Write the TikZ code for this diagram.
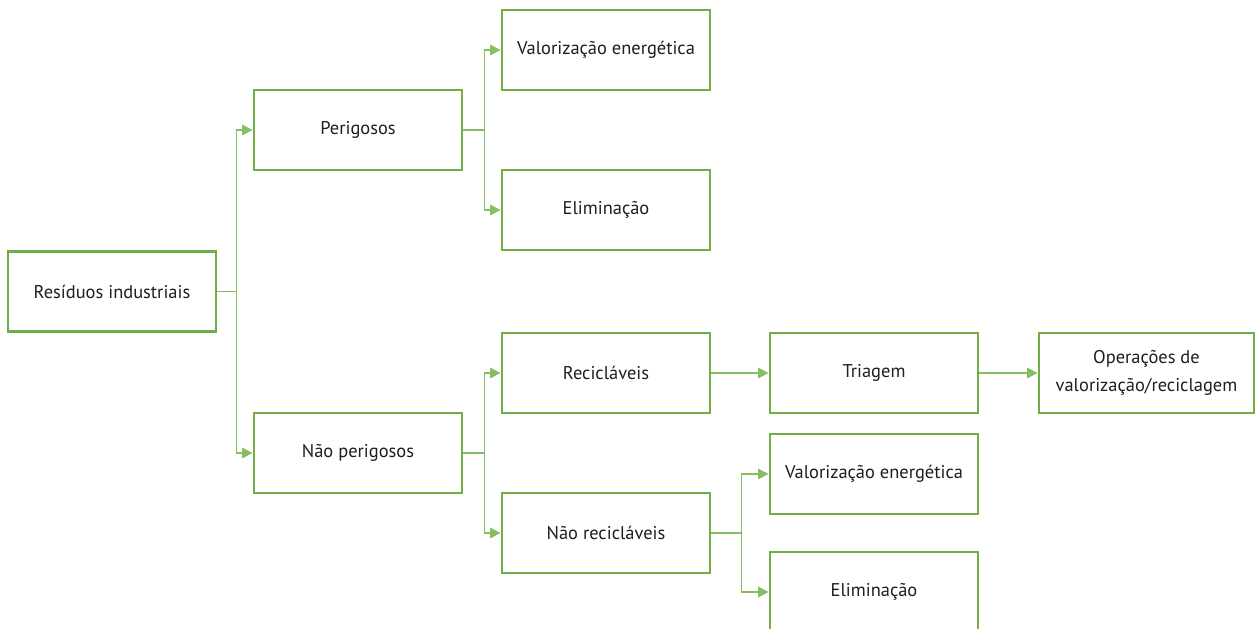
\documentclass[tikz,border=0pt]{standalone}
\usepackage{fontspec}
\setmainfont{PT Sans}
\usetikzlibrary{arrows.meta}
\definecolor{boxgreen}{HTML}{70AD47}
\definecolor{linkgreen}{HTML}{84BD62}
\definecolor{txtgray}{HTML}{1E1E1E}
\begin{document}
\begin{tikzpicture}[
    x=0.02cm, y=-0.02cm,
    box/.style={draw=boxgreen, line width=1.6pt, minimum width=4.16cm, minimum height=1.6cm, align=center, font=\fontsize{10.5}{16}\selectfont, text=txtgray, inner sep=2pt},
    link/.style={draw=linkgreen, line width=0.7pt, -{Triangle[length=6pt, width=6pt]}},
]
    \clip (0,0) rectangle (1255,629);
    \useasboundingbox (0,0) rectangle (1255,629);

    % Root
    \node[box] (res) at (112, 291.5) {Resíduos industriais};

    % First level
    \node[box] (per) at (358, 130) {Perigosos};
    \node[box] (nper) at (358, 453) {Não perigosos};

    % Perigosos branch
    \node[box] (valA) at (606, 50) {Valorização energética};
    \node[box] (elimA) at (606, 210) {Eliminação};

    % Nao perigosos branch
    \node[box] (rec) at (606, 373) {Recicláveis};
    \node[box] (nrec) at (606, 533) {Não recicláveis};
    \node[box] (tri) at (874, 373) {Triagem};
    \node[box, minimum width=4.3cm] (oper) at (1146.5, 373) {Operações de\\valorização/reciclagem};
    \node[box] (valB) at (874, 474) {Valorização energética};
    \node[box] (elimB) at (874, 592) {Eliminação};

    % Connectors
    \draw[link] (res.east) -- ++(19,0) |- (per.west);
    \draw[link] (res.east) -- ++(19,0) |- (nper.west);
    \draw[link] (per.east) -- ++(21,0) |- (valA.west);
    \draw[link] (per.east) -- ++(21,0) |- (elimA.west);
    \draw[link] (nper.east) -- ++(21,0) |- (rec.west);
    \draw[link] (nper.east) -- ++(21,0) |- (nrec.west);
    \draw[link] (rec.east) -- (tri.west);
    \draw[link] (tri.east) -- (oper.west);
    \draw[link] (nrec.east) -- ++(30,0) |- (valB.west);
    \draw[link] (nrec.east) -- ++(30,0) |- (elimB.west);
\end{tikzpicture}
\end{document}
